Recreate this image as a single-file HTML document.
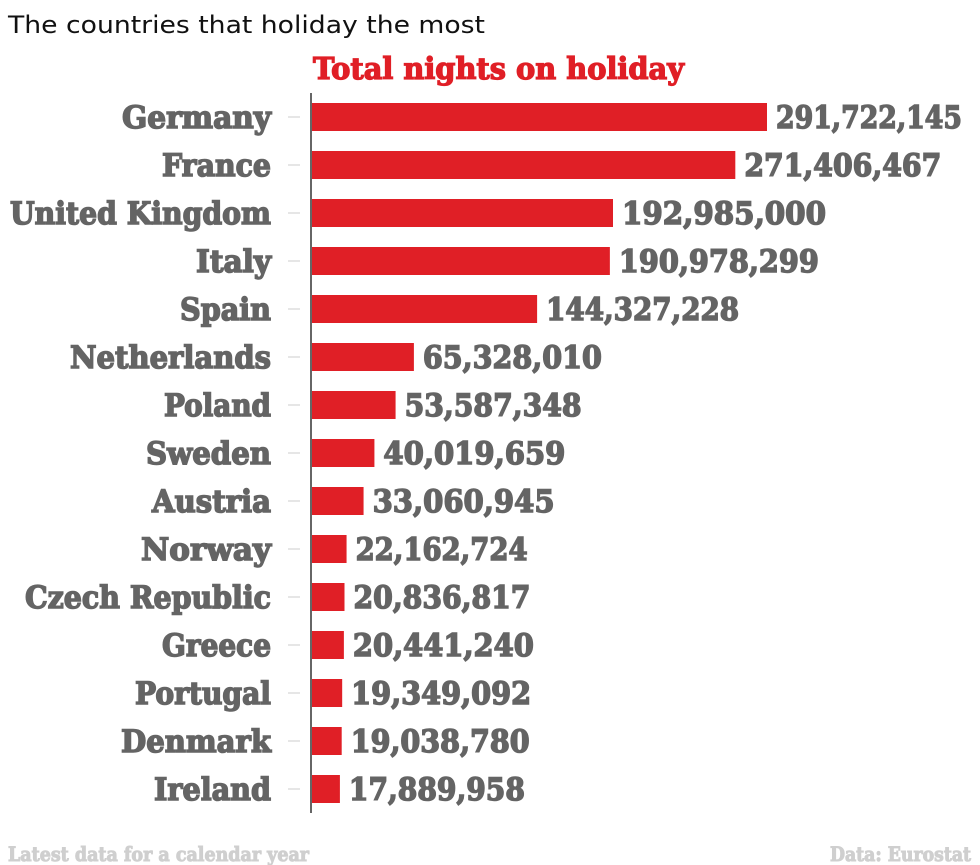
<!DOCTYPE html>
<html><head><meta charset="utf-8"><style>
html,body{margin:0;padding:0;background:#fff;width:980px;height:865px;overflow:hidden}
svg text{font-family:"DejaVu Serif","Liberation Serif",serif;font-weight:bold}
</style></head><body>
<svg width="980" height="865" viewBox="0 0 980 865" xmlns="http://www.w3.org/2000/svg">
<text x="8" y="33" style="font-family:'DejaVu Sans','Liberation Sans',sans-serif;font-weight:normal" font-size="24" fill="#111" textLength="477" lengthAdjust="spacingAndGlyphs">The countries that holiday the most</text>
<text x="313" y="79" font-size="30" fill="#e01f26" stroke="#e01f26" stroke-width="1.3" textLength="371" lengthAdjust="spacingAndGlyphs">Total nights on holiday</text>
<line x1="311" y1="93" x2="311" y2="813" stroke="#333" stroke-width="1.5"/>
<g id="rows"></g>
<text x="8" y="861" font-size="20" fill="#cfcfcf" stroke="#cfcfcf" stroke-width="1" textLength="301" lengthAdjust="spacingAndGlyphs">Latest data for a calendar year</text>
<text x="830" y="861" font-size="20" fill="#cfcfcf" stroke="#cfcfcf" stroke-width="1" textLength="141" lengthAdjust="spacingAndGlyphs">Data: Eurostat</text>
</svg>
<script>
var d=[["Germany",122,291722145,"291,722,145",186],["France",162,271406467,"271,406,467",197],["United Kingdom",10,192985000,"192,985,000",204],["Italy",196,190978299,"190,978,299",200],["Spain",180,144327228,"144,327,228",193],["Netherlands",70,65328010,"65,328,010",179],["Poland",164,53587348,"53,587,348",177],["Sweden",146,40019659,"40,019,659",182],["Austria",152,33060945,"33,060,945",182],["Norway",141,22162724,"22,162,724",172],["Czech Republic",25,20836817,"20,836,817",177],["Greece",162,20441240,"20,441,240",181],["Portugal",135,19349092,"19,349,092",180],["Denmark",121,19038780,"19,038,780",179],["Ireland",154,17889958,"17,889,958",176]];
var g=document.getElementById("rows"),s="";
d.forEach(function(r,i){var c=117+i*48;var w=r[2]/291722145*455;
s+='<line x1="288" y1="'+c+'" x2="300" y2="'+c+'" stroke="#ccc" stroke-width="1"/>';
s+='<rect x="312" y="'+(c-14)+'" width="'+w+'" height="28" fill="#e01f26"/>';
s+='<text x="'+r[1]+'" y="'+(c+11)+'" font-size="31" fill="#646464" stroke="#646464" stroke-width="1.5" textLength="'+(271-r[1])+'" lengthAdjust="spacingAndGlyphs">'+r[0]+'</text>';
s+='<text x="'+(312+w+9)+'" y="'+(c+11)+'" font-size="31" fill="#646464" stroke="#646464" stroke-width="1.5" textLength="'+r[4]+'" lengthAdjust="spacingAndGlyphs">'+r[3]+'</text>';});
g.innerHTML=s;
</script>
</body></html>
